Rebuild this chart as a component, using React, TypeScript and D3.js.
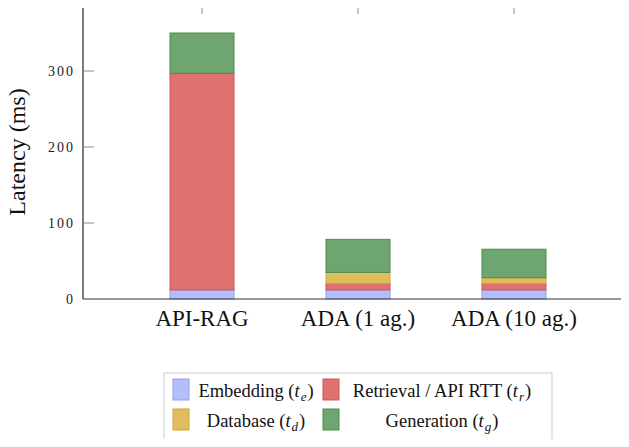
import React from "react";
import * as d3 from "d3";

const categories = ["API-RAG", "ADA (1 ag.)", "ADA (10 ag.)"];
const embedding = [12, 12, 12];
const retrieval = [285, 8.5, 8.5];
const database = [0, 14.5, 7.5];
const generation = [53, 43.5, 37.5];
const yTicks = [0, 100, 200, 300];

const seriesKeys = ["embedding", "retrieval", "database", "generation"];
const seriesFill = ["#b4bffa", "#df7170", "#e0bc5c", "#6fa570"];
const seriesStroke = ["#8f9ff2", "#d65252", "#d4a637", "#4c8c4d"];
const legendLabels = ["Embedding", "Retrieval / API RTT", "Database", "Generation"];
const legendSubs = ["e", "r", "d", "g"];

const width = 629;
const height = 447;
const plot = { left: 83, right: 633, top: 3, bottom: 299 };
const serif = "Liberation Serif";

const rows = categories.map((c, i) => ({
  cat: c,
  embedding: embedding[i],
  retrieval: retrieval[i],
  database: database[i],
  generation: generation[i],
}));

const x = d3
  .scalePoint<string>()
  .domain(categories)
  .range([plot.left, plot.right])
  .padding(0.763);

const y = d3.scaleLinear().domain([0, 389.5]).range([plot.bottom, plot.top]);

const stack = d3.stack<any>().keys(seriesKeys)(rows);
const barW = 64;

// legend layout: two columns, two rows
const swX = [173, 323];
const txtC = [256, 442];
const rowY = [379, 409];

const App: React.FC = () => {
  return (
    <svg width={width} height={height} style={{ display: "block", margin: -8 }}>
      {stack.map((layer, li) => (
        <g key={li} fill={seriesFill[li]} stroke={seriesStroke[li]}>
          {layer
            .filter((s) => s[1] - s[0] > 0)
            .map((s, j) => (
              <rect
                key={j}
                x={(x(s.data.cat) as number) - barW / 2}
                width={barW}
                y={y(s[1])}
                height={y(s[0]) - y(s[1])}
              />
            ))}
        </g>
      ))}

      <rect x={plot.left} y={plot.top} width={width - plot.left} height={1.6} fill="#555" />
      <line x1={plot.left} x2={plot.left} y1={plot.top} y2={plot.bottom} stroke="#222" strokeWidth={1.2} />
      <line x1={plot.left} x2={width} y1={plot.bottom} y2={plot.bottom} stroke="#333" strokeWidth={1.2} />

      {yTicks.map((t) => (
        <g key={t}>
          {t > 0 && (
            <>
              <line x1={plot.left} x2={plot.left + 11} y1={y(t)} y2={y(t)} stroke="#8a8a8a" />
              <line x1={plot.right} x2={plot.right - 11} y1={y(t)} y2={y(t)} stroke="#8a8a8a" />
            </>
          )}
          <text
            x={75}
            y={y(t) + 5}
            textAnchor="end"
            fill="#222"
            style={{ fontFamily: serif, fontSize: 14, letterSpacing: 2 }}
          >
            {t}
          </text>
        </g>
      ))}

      {categories.map((c) => (
        <g key={c}>
          <line x1={x(c)} x2={x(c)} y1={plot.top} y2={plot.top + 11} stroke="#8a8a8a" />
          <text
            x={x(c)}
            y={326}
            textAnchor="middle"
            fill="#111"
            style={{ fontFamily: serif, fontSize: 23 }}
          >
            {c}
          </text>
        </g>
      ))}

      <text
        transform="translate(25,152) rotate(-90)"
        textAnchor="middle"
        fill="#111"
        style={{ fontFamily: serif, fontSize: 24 }}
      >
        Latency (ms)
      </text>

      <rect x={164} y={373} width={388} height={70} fill="white" stroke="#cccccc" />
      {legendLabels.map((lab, i) => {
        const col = i % 2;
        const row = Math.floor(i / 2);
        return (
          <g key={lab}>
            <rect
              x={swX[col]}
              y={rowY[row]}
              width={16}
              height={21}
              fill={seriesFill[i]}
              stroke={seriesStroke[i]}
            />
            <text
              x={txtC[col]}
              y={rowY[row] + 18}
              textAnchor="middle"
              fill="#111"
              style={{ fontFamily: serif, fontSize: 18.5 }}
            >
              {lab} (
              <tspan style={{ fontStyle: "italic" }}>t</tspan>
              <tspan style={{ fontStyle: "italic", fontSize: 13 }} dx={1} dy={4}>
                {legendSubs[i]}
              </tspan>
              <tspan dy={-4} dx={1}>)</tspan>
            </text>
          </g>
        );
      })}
    </svg>
  );
};

export default App;
